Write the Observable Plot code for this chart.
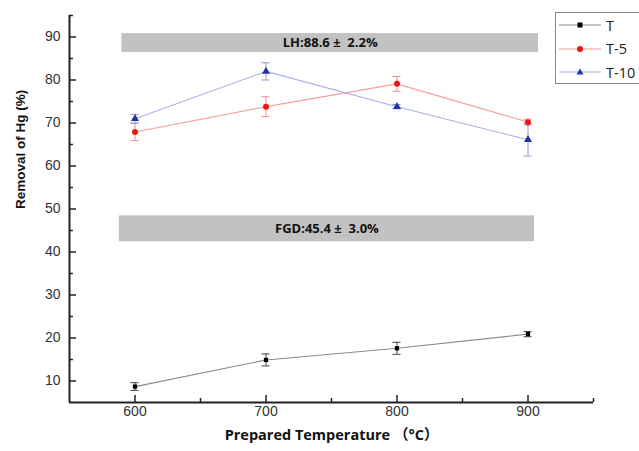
<!DOCTYPE html>
<html>
<head>
<meta charset="utf-8">
<script src="https://cdn.jsdelivr.net/npm/d3@7"></script>
<script src="https://cdn.jsdelivr.net/npm/@observablehq/plot@0.6"></script>
<style>
  html, body { margin: 0; padding: 0; background: #fff; overflow: hidden; }
  #wrap { position: relative; width: 639px; height: 451px; }
  #legend { position: absolute; left: 555px; top: 12px; width: 100px; height: 70px;
    border: 1px solid #888; background: #fff; font-family: "Open Sans", sans-serif; font-size: 14.5px; color: #222; }
  .item { position: absolute; left: 3px; height: 20px; display: flex; align-items: center; }
  .item svg { margin-right: 5px; }
</style>
</head>
<body>
<div id="wrap"></div>
<script>
// ---- data ----
const temps = [600, 700, 800, 900];
const seriesNames = ["T", "T-5", "T-10"];
const valT   = [8.7, 14.9, 17.6, 20.9];
const errT   = [0.9, 1.4, 1.4, 0.6];
const valT5  = [67.9, 73.8, 79.1, 70.2];
const errT5  = [2.0, 2.3, 1.7, 0.7];
const valT10 = [71.0, 82.0, 73.8, 66.1];
const errT10 = [1.0, 2.0, 0.5, 3.8];
const bandLabels = ["LH:88.6 \u00b1  2.2%", "FGD:45.4 \u00b1  3.0%"];
const bandMean = [88.6, 45.4];
const bandSd   = [2.2, 3.0];
const bandX1   = [590, 588];
const bandX2   = [908, 905];
const xMajor = [600, 700, 800, 900];
const xMinor = [650, 750, 850, 950];
const yMajor = [10, 20, 30, 40, 50, 60, 70, 80, 90];
const yMinor = [15, 25, 35, 45, 55, 65, 75, 85, 95];

const lineColors   = {"T": "#8a8a8a", "T-5": "#f5a0a0", "T-10": "#a8b0e2"};
const errColors    = {"T": "#444444", "T-5": "#f08a8a", "T-10": "#9098d8"};
const markerColors = {"T": "#000000", "T-5": "#ee1515", "T-10": "#2233a5"};

const vals = {"T": [valT, errT], "T-5": [valT5, errT5], "T-10": [valT10, errT10]};
const rows = seriesNames.flatMap(s => temps.map((t, i) => ({s, t, v: vals[s][0][i], e: vals[s][1][i]})));
const bands = bandLabels.map((label, i) => ({label, m: bandMean[i], sd: bandSd[i], x1: bandX1[i], x2: bandX2[i]}));

const font = "Liberation Sans, Arial, sans-serif";
const marks = [];
// bands
marks.push(Plot.rect(bands, {x1: "x1", x2: "x2", y1: d => d.m - d.sd, y2: d => d.m + d.sd, fill: "#c2c2c2"}));
marks.push(Plot.text(bands, {x: d => (d.x1 + d.x2) / 2, y: "m", text: "label", fontWeight: "bold",
  fontSize: 13, fontFamily: "Open Sans, sans-serif", fill: "#111"}));
// series
for (const s of seriesNames) {
  const d = rows.filter(r => r.s === s);
  marks.push(Plot.line(d, {x: "t", y: "v", stroke: lineColors[s], strokeWidth: 1.1}));
  marks.push(Plot.ruleX(d, {x: "t", y1: r => r.v - r.e, y2: r => r.v + r.e, stroke: errColors[s], strokeWidth: 1}));
  marks.push(Plot.ruleY(d, {y: r => r.v - r.e, x1: "t", x2: "t", insetLeft: -4, insetRight: -4, stroke: errColors[s], strokeWidth: 1}));
  marks.push(Plot.ruleY(d, {y: r => r.v + r.e, x1: "t", x2: "t", insetLeft: -4, insetRight: -4, stroke: errColors[s], strokeWidth: 1}));
}
marks.push(Plot.dot(rows.filter(r => r.s === "T"), {x: "t", y: "v", symbol: "square", r: 2.4, fill: markerColors["T"]}));
marks.push(Plot.dot(rows.filter(r => r.s === "T-5"), {x: "t", y: "v", symbol: "circle", r: 3, fill: markerColors["T-5"]}));
marks.push(Plot.dot(rows.filter(r => r.s === "T-10"), {x: "t", y: "v", symbol: "triangle", r: 3, fill: markerColors["T-10"]}));
// axes
marks.push(Plot.ruleX([550], {stroke: "#222", strokeWidth: 2}));
marks.push(Plot.ruleY([5], {stroke: "#222", strokeWidth: 2}));
marks.push(Plot.axisX(xMajor, {tickSize: 0, tickPadding: 4, fontSize: 14, fontFamily: font, fill: "#333", label: null}));
marks.push(Plot.axisX(xMajor, {tickSize: -7, text: null, stroke: "#222", strokeWidth: 1.5, label: null}));
marks.push(Plot.axisX(xMinor, {tickSize: -4, text: null, stroke: "#222", strokeWidth: 1.5, label: null}));
marks.push(Plot.axisY(yMajor, {tickSize: 0, tickPadding: 9, fontSize: 14, fontFamily: font, fill: "#333", label: null}));
marks.push(Plot.axisY(yMajor, {tickSize: -7, text: null, stroke: "#222", strokeWidth: 1.5, label: null}));
marks.push(Plot.axisY(yMinor, {tickSize: -4, text: null, stroke: "#222", strokeWidth: 1.5, label: null}));
// titles
marks.push(Plot.text(["Removal of Hg (%)"], {frameAnchor: "left", dx: -49, rotate: -90, text: d => d,
  fontWeight: "bold", fontSize: 13.5, fontFamily: font, fill: "#111"}));
marks.push(Plot.text(["Prepared Temperature \uff08\u00b0C\uff09"], {frameAnchor: "bottom", dy: 37, text: d => d,
  fontWeight: "bold", fontSize: 14.5, fontFamily: "Open Sans, Noto Sans CJK SC, sans-serif", fill: "#111"}));

const chart = Plot.plot({
  width: 639, height: 451,
  marginLeft: 69, marginRight: 46, marginTop: 15, marginBottom: 49,
  x: {domain: [550, 950]},
  y: {domain: [5, 95]},
  style: {background: "#fff", overflow: "visible"},
  marks
});
const wrap = document.getElementById("wrap");
wrap.appendChild(chart);

// legend
const legend = document.createElement("div");
legend.id = "legend";
const shapes = {
  "T": `<rect x="18.5" y="6.5" width="5" height="5" fill="${markerColors["T"]}"/>`,
  "T-5": `<circle cx="21" cy="9" r="3" fill="${markerColors["T-5"]}"/>`,
  "T-10": `<path d="M21,5.5 L24.5,11.5 L17.5,11.5 Z" fill="${markerColors["T-10"]}"/>`
};
seriesNames.forEach((s, i) => {
  const it = document.createElement("div");
  it.className = "item";
  it.style.top = (2 + i * 23.5) + "px";
  it.innerHTML = `<svg width="42" height="18"><line x1="0" x2="42" y1="9" y2="9" stroke="${lineColors[s]}" stroke-width="1.2"/>${shapes[s]}</svg><span>${s}</span>`;
  legend.appendChild(it);
});
wrap.appendChild(legend);
</script>
</body>
</html>
